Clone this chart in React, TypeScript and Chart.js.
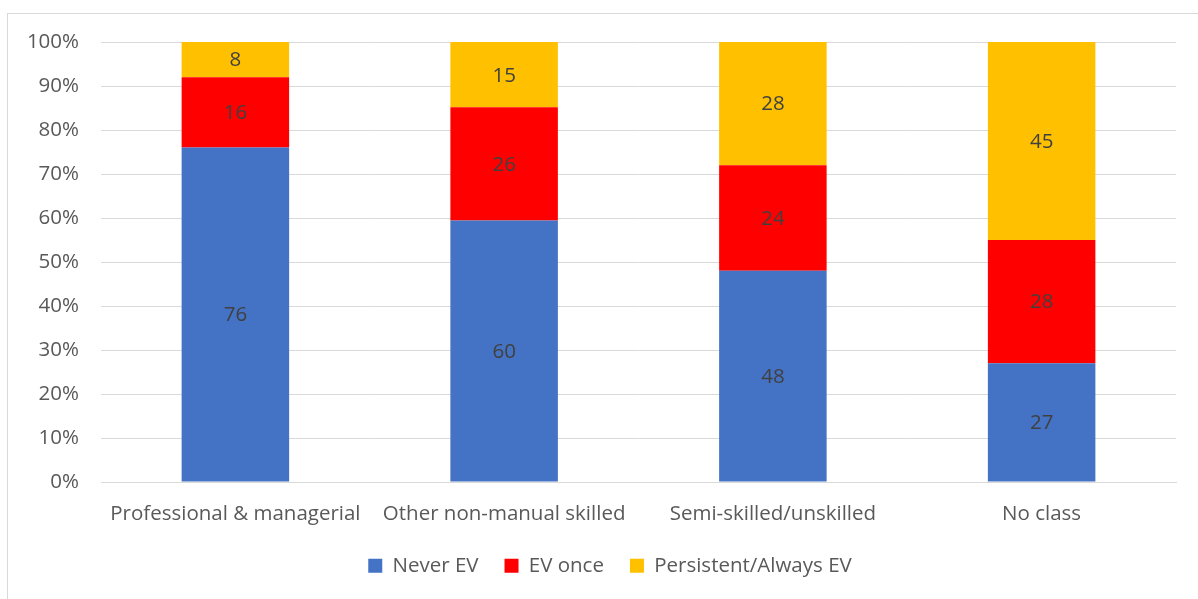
import React, { useEffect, useRef } from "react";
import { Chart, registerables } from "chart.js";

Chart.register(...registerables);

const categories = [
  "Professional & managerial",
  "Other non-manual skilled",
  "Semi-skilled/unskilled",
  "No class",
];
const neverEV = [76, 60, 48, 27];
const evOnce = [16, 26, 24, 28];
const persistentEV = [8, 15, 28, 45];
const seriesNames = ["Never EV", "EV once", "Persistent/Always EV"];
const seriesColors = ["#4472C4", "#FF0000", "#FFC000"];
const yTicks = [0, 10, 20, 30, 40, 50, 60, 70, 80, 90, 100];

const FONT = "'Open Sans', 'Noto Sans', sans-serif";
const FS = 20.5;

export default function App() {
  const ref = useRef<HTMLCanvasElement | null>(null);

  useEffect(() => {
    if (!ref.current) return;
    const raw = [neverEV, evOnce, persistentEV];
    const totals = categories.map((_, i) => raw.reduce((s, a) => s + a[i], 0));
    const datasets = raw.map((arr, k) => ({
      label: seriesNames[k],
      data: arr.map((v, i) => (v / totals[i]) * 100),
      rawValues: arr,
      backgroundColor: seriesColors[k],
      borderWidth: 0,
      categoryPercentage: 1,
      barPercentage: 0.4,
    }));

    const labelPlugin = {
      id: "segLabels",
      afterDatasetsDraw(chart: any) {
        const ctx = chart.ctx;
        ctx.save();
        ctx.font = `${FS}px ${FONT}`;
        ctx.fillStyle = "#404040";
        ctx.textAlign = "center";
        ctx.textBaseline = "middle";
        chart.data.datasets.forEach((ds: any, di: number) => {
          const meta = chart.getDatasetMeta(di);
          meta.data.forEach((bar: any, i: number) => {
            const yMid = (bar.y + bar.base) / 2;
            ctx.fillText(String(ds.rawValues[i]), bar.x, yMid + 1);
          });
        });
        ctx.restore();
      },
    };

    const legendShift = {
      id: "legendShift",
      afterLayout(chart: any) {
        if (chart.legend) {
          chart.legend.left += 22;
          chart.legend.right += 22;
        }
      },
    };

    const chart = new Chart(ref.current, {
      type: "bar",
      data: { labels: categories, datasets: datasets as any },
      plugins: [labelPlugin, legendShift],
      options: {
        animation: false,
        responsive: false,
        maintainAspectRatio: false,
        layout: { padding: { left: 0, right: 22, top: 42, bottom: 13 } },
        plugins: {
          tooltip: { enabled: false },
          legend: {
            position: "bottom",
            labels: {
              boxWidth: 14,
              boxHeight: 14,
              padding: 26,
              color: "#595959",
              font: { size: FS, family: FONT },
            },
          },
        },
        scales: {
          x: {
            stacked: true,
            grid: { display: false, drawTicks: false },
            border: { display: true, color: "#d9d9d9", width: 1 },
            ticks: {
              color: "#595959",
              font: { size: FS, family: FONT },
              padding: 20,
              maxRotation: 0,
              autoSkip: false,
            },
            afterFit(scale: any) {
              scale.height = 47.5;
            },
          },
          y: {
            stacked: true,
            min: 0,
            max: 100,
            afterBuildTicks(scale: any) {
              scale.ticks = yTicks.map((v) => ({ value: v }));
            },
            grid: { color: "#d9d9d9", lineWidth: 1, drawTicks: false },
            border: { display: false },
            ticks: {
              color: "#595959",
              font: { size: FS, family: FONT },
              padding: 22,
              callback: (v: any) => `${v}%`,
            },
            afterFit(scale: any) {
              scale.width = 101;
            },
          },
        },
      },
    });
    return () => chart.destroy();
  }, []);

  return (
    <div style={{ position: "fixed", left: 0, top: 0, width: 1198, height: 599, overflow: "hidden", background: "#fff" }}>
      <div
        style={{
          position: "absolute",
          left: 7,
          top: 13,
          width: 1300,
          height: 700,
          border: "1px solid #d9d9d9",
        }}
      />
      <canvas ref={ref} width={1198} height={599} style={{ position: "absolute", left: 0, top: 0, width: 1198, height: 599 }} />
    </div>
  );
}
